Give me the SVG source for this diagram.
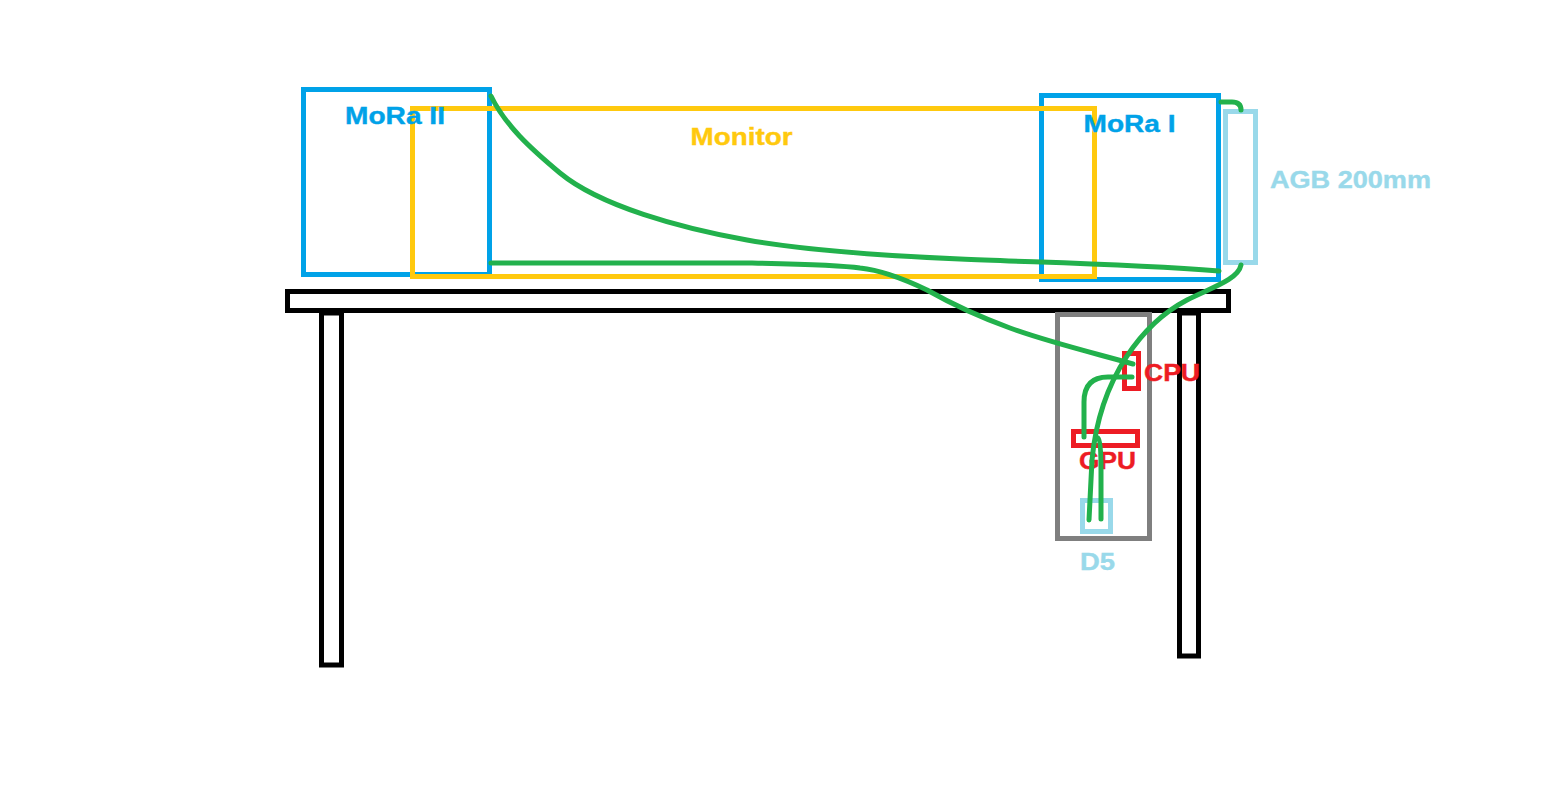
<svg xmlns="http://www.w3.org/2000/svg" width="1545" height="800" viewBox="0 0 1545 800">
<style>
rect{fill:none;stroke-width:5}
text{font-family:"Liberation Sans",Arial,sans-serif;font-weight:bold;font-size:24.5px;stroke-width:.4}
.k{stroke:#000}.b{stroke:#00a2e8}.y{stroke:#ffc90e}.l{stroke:#99d9ea}.r{stroke:#ed1c24}.g{stroke:#7f7f7f}
.tb{fill:#00a2e8;stroke:#00a2e8}.ty{fill:#ffc90e;stroke:#ffc90e}.tl{fill:#99d9ea;stroke:#99d9ea}.tr{fill:#ed1c24;stroke:#ed1c24}
#connectors path{fill:none;stroke:#22b14c;stroke-width:5;stroke-linecap:round;stroke-linejoin:round}
</style>
<rect width="1545" height="800" style="fill:#fff;stroke:none"/>
<g id="table"><rect class="k" x="287.5" y="291.5" width="941" height="19"/></g>
<g id="leg-left"><rect class="k" x="321.5" y="313" width="20" height="352"/></g>
<g id="leg-right"><rect class="k" x="1179.5" y="313" width="19" height="343"/></g>
<g id="mora2"><rect class="b" x="303.5" y="89.5" width="186" height="185"/></g>
<g id="mora1"><rect class="b" x="1041.5" y="95.5" width="177" height="184"/></g>
<g id="monitor"><rect class="y" x="412.5" y="108.5" width="682" height="168"/><text class="ty" x="690.5" y="145" textLength="102" lengthAdjust="spacingAndGlyphs">Monitor</text></g>
<g id="agb"><rect class="l" x="1225.5" y="111.5" width="30" height="151"/><text class="tl" x="1270" y="187.500" textLength="161" lengthAdjust="spacingAndGlyphs">AGB 200mm</text></g>
<g id="case"><rect class="g" x="1057.5" y="314.5" width="92" height="224"/></g>
<g id="cpu"><rect class="r" x="1124.5" y="353.5" width="14" height="35"/><text class="tr" x="1144" y="380.500" textLength="56" lengthAdjust="spacingAndGlyphs">CPU</text></g>
<g id="gpu"><rect class="r" x="1073.5" y="431.5" width="64" height="14"/><text class="tr" x="1079" y="468.500" textLength="57" lengthAdjust="spacingAndGlyphs">GPU</text></g>
<g id="d5"><rect class="l" x="1082.5" y="500.5" width="28" height="31"/><text class="tl" x="1080" y="569.500" textLength="35" lengthAdjust="spacingAndGlyphs">D5</text></g>
<g id="mora-labels"><text class="tb" x="345" y="124" textLength="100" lengthAdjust="spacingAndGlyphs">MoRa II</text><text class="tb" x="1083.5" y="132" textLength="92" lengthAdjust="spacingAndGlyphs">MoRa I</text></g>
<g id="connectors">
<path d="M491 96C505 125 530 148 560 173C600 206 680 228 747 240C800 249.500 880 255.500 960 259C1040 262.500 1130 264 1219 271"/>
<path d="M491 263H752C800 264 840 265 860 268C880 270 900 277 927 290C950 303 980 317 1010 328C1045 341 1090 352 1133 364"/>
<path d="M1221 102H1232Q1241 102 1241 110"/>
<path d="M1241 265C1238 280 1210 288 1187 300C1145 322 1100 375 1092 460L1089 520"/>
<path d="M1132 377H1108Q1084 377 1084 402V437"/>
<path d="M1098 438Q1101 440 1101 470V519"/>
</g>
</svg>
